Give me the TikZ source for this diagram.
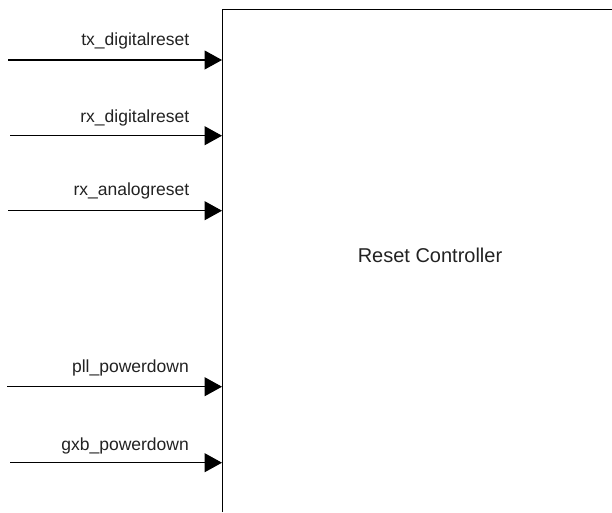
\documentclass[tikz,border=0pt]{standalone}
\usepackage{fontspec}
\setmainfont{Liberation Sans}
\usetikzlibrary{arrows.meta}
\definecolor{txtgray}{HTML}{222222}
\tikzset{
  sig/.style={draw=black, line width=1.1pt, -{Triangle[length=17.5pt,width=19pt]}},
  siglabel/.style={anchor=base east, inner sep=0pt, text=txtgray, font=\fontsize{17.5}{20}\selectfont},
  boxline/.style={draw=black, line width=1.5pt},
  title/.style={inner sep=0pt, text=txtgray, font=\fontsize{20}{24}\selectfont}
}
\begin{document}
\begin{tikzpicture}[x=1pt,y=-1pt]
\useasboundingbox (0,0) rectangle (612,512);
% box (left and top edges)
\coordinate (boxbl) at (222.7,512);
\coordinate (boxtl) at (222.7,9.3);
\coordinate (boxtr) at (612,9.3);
\draw[boxline] (boxbl) -- (boxtl) -- (boxtr);
\node[title] (ctrl) at (430,255) {Reset Controller};
% signals
\coordinate (s1) at (8,60);   \coordinate (e1) at (222,60);
\coordinate (s2) at (10,135.7); \coordinate (e2) at (222,135.7);
\coordinate (s3) at (8,210.7); \coordinate (e3) at (222,210.7);
\coordinate (s4) at (7,386.7); \coordinate (e4) at (222,386.7);
\coordinate (s5) at (10,462.7); \coordinate (e5) at (222,462.7);
\draw[sig] (s1) -- (e1);
\draw[sig] (s2) -- (e2);
\draw[sig] (s3) -- (e3);
\draw[sig] (s4) -- (e4);
\draw[sig] (s5) -- (e5);
\node[siglabel] (l1) at (189.5,45.7) {tx\_digitalreset};
\node[siglabel] (l2) at (189.5,122) {rx\_digitalreset};
\node[siglabel] (l3) at (189.5,195) {rx\_analogreset};
\node[siglabel] (l4) at (189,372.7) {pll\_powerdown};
\node[siglabel] (l5) at (189,450.7) {gxb\_powerdown};
\end{tikzpicture}
\end{document}
